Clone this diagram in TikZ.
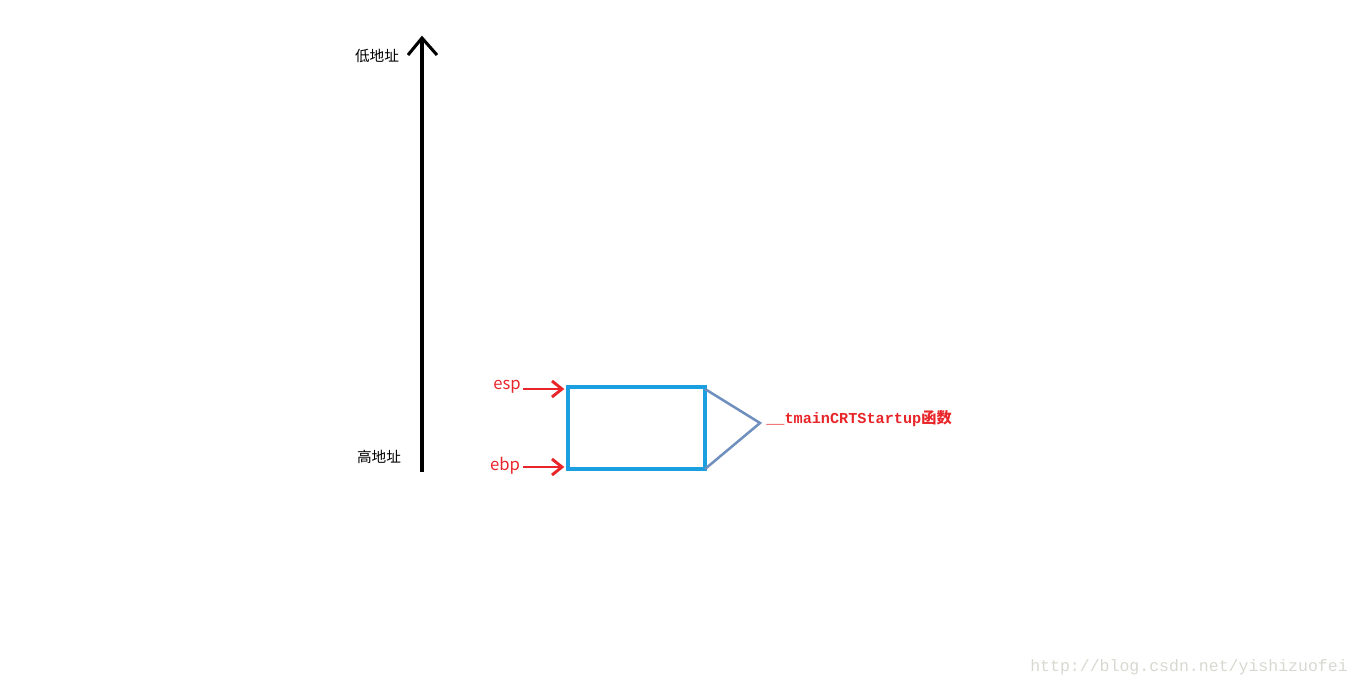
\documentclass[tikz,border=0pt]{standalone}
\usepackage{fontspec}
\setmainfont{Noto Sans CJK SC}
\newfontfamily\monofont{Liberation Mono}
\newfontfamily\cjkfont{Noto Sans CJK SC}
\usetikzlibrary{positioning}

\definecolor{regred}{HTML}{E8262A}
\definecolor{framecyan}{HTML}{1AA0E0}
\definecolor{bracesteel}{HTML}{6F8FBF}
\definecolor{markgray}{HTML}{D8D8D0}

\tikzset{
  addrlabel/.style={font=\fontsize{11pt}{13pt}\selectfont, inner sep=0pt},
  reglabel/.style={font=\fontsize{12.5pt}{14pt}\selectfont, text=regred, inner sep=0pt},
  regarrow/.style={draw=regred, line width=2.2pt},
}

\begin{document}
\begin{tikzpicture}[x=0.75pt, y=-0.75pt]

\useasboundingbox (0,0) rectangle (1360,687);

\newcommand\stackx{422}
\newcommand\stacktop{38}
\newcommand\stackbottom{472}

  \draw[line width=2.3pt] (\stackx,\stackbottom) coordinate (high) -- (\stackx,\stacktop) coordinate (low);
  \draw[line width=2.3pt] (408,55) -- (low) -- (437,55);

\node[addrlabel] (lowlabel) at (377,56) {低地址};
\node[addrlabel] (highlabel) at (379,457) {高地址};

% frame of the stack
\draw[draw=framecyan, line width=2.3pt] (568,387) coordinate (frametl) rectangle (705,469) coordinate (framebr);
\coordinate (frametr) at (705,389);
\coordinate (framebrr) at (705,469);
\coordinate (tip) at (760,423);
\draw[draw=bracesteel, line width=1.9pt] (frametr) -- (tip) -- (framebrr);

\node[font=\monofont\bfseries\fontsize{11.4pt}{13pt}\selectfont, text=regred, anchor=west, inner sep=0pt] (funclabel) at (766,419) {\_\_tmainCRTStartup{\cjkfont 函数}};

% registers
\node[reglabel] (esp) at (507,387) {esp};
\node[reglabel] (ebp) at (505,466) {ebp};
\coordinate (esptip) at (562,389);
\coordinate (ebptip) at (562,467);
\draw[regarrow] (523,389) -- (esptip);
\draw[regarrow] (552,381) -- (esptip) -- (552,397);
\draw[regarrow] (523,467) -- (ebptip);
\draw[regarrow] (552,459) -- (ebptip) -- (552,475);

\node[font=\monofont\fontsize{12.4pt}{14pt}\selectfont, text=markgray, anchor=west, inner sep=0pt] (watermark) at (1030,667) {http://blog.csdn.net/yishizuofei};

\end{tikzpicture}
\end{document}
